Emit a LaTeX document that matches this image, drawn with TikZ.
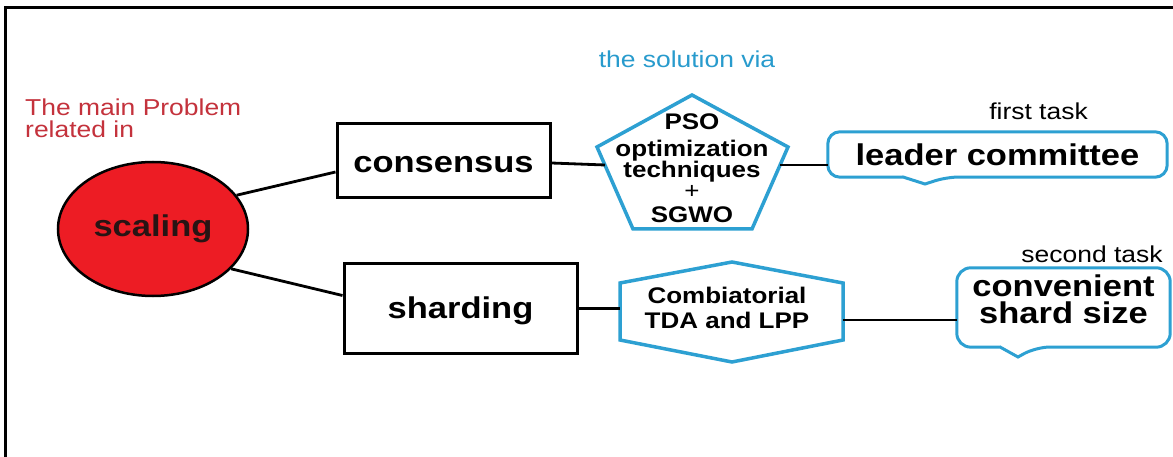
\documentclass[tikz,border=0pt]{standalone}
\usepackage{fontspec}
\setmainfont{Liberation Sans}[FakeStretch=1.15]
\usetikzlibrary{shapes.geometric}
\definecolor{probred}{RGB}{196,50,60}
\definecolor{solblue}{RGB}{40,155,205}
\definecolor{shapeblue}{RGB}{45,160,210}
\definecolor{fillred}{RGB}{237,28,36}
\definecolor{darkink}{RGB}{40,20,20}
\newcommand{\tightlines}{\setlength{\lineskiplimit}{-50pt}}
\begin{document}
\begin{tikzpicture}[x=1pt,y=-1pt,
  bigtext/.style={font={\bfseries\fontsize{30}{27}\selectfont\tightlines}},
  midtext/.style={font={\bfseries\fontsize{22.6}{21}\selectfont\tightlines}},
  smalltext/.style={font={\fontsize{23}{22}\selectfont}},
  blackbox/.style={draw, line width=3pt, rectangle, inner sep=0pt, bigtext},
  polyline/.style={draw=shapeblue, line width=3.5pt, line join=miter},
  calloutline/.style={draw=shapeblue, line width=3pt},
  connector/.style={line width=2.8pt},
  frameline/.style={line width=3pt}]
\useasboundingbox (0,0) rectangle (1173,457);
\fill[white] (0,0) rectangle (1173,457);
\draw[frameline] (1173,8) -- (5,8) -- (5,457);

% captions
\node[smalltext, text=probred, anchor=north west, align=left, inner sep=0pt] (probcap) at (25,98.5) {The main Problem\\related in};
\node[smalltext, text=solblue, anchor=base, inner sep=0pt] (solcap) at (687,68) {the solution via};
\node[smalltext, anchor=base, inner sep=0pt] (task1) at (1038.5,120) {first task};
\node[smalltext, anchor=base, inner sep=0pt] (task2) at (1092,262) {second task};

% problem and sub-problems
\node[ellipse, draw, line width=2.5pt, fill=fillred, minimum width=190pt, minimum height=134pt, inner sep=0pt, bigtext, text=darkink] (scal) at (153,229) {scaling};
\node[blackbox, minimum width=213pt, minimum height=74pt, text height=24pt, text depth=0pt] (cons) at (443.5,161) {consensus};
\node[blackbox, minimum width=233pt, minimum height=89pt, text height=22pt, text depth=3pt] (shard) at (460.5,308.5) {sharding};

% pentagon: PSO + SGWO
\draw[polyline] (692,95) -- (788,147) -- (752,229) -- (633,229) -- (597,147) -- cycle;
\coordinate (pL) at (605,165);
\coordinate (pR) at (780,165);
\node[midtext, align=center, inner sep=0pt] (pso) at (692,168) {PSO\\[6pt]optimization\\techniques\\{\mdseries +}\\[3pt]SGWO};

% hexagon: TDA and LPP
\draw[polyline] (732,262) -- (843,283) -- (843,340) -- (732,362) -- (620,340) -- (620,283) -- cycle;
\coordinate (hexL) at (620,308.5);
\coordinate (hexR) at (843,320);
\node[align=center, inner sep=0pt, font={\bfseries\fontsize{22.6}{25}\selectfont}] (tda) at (727,308) {Combiatorial\\TDA and LPP};

% task callouts
\node[bigtext, minimum width=339pt, minimum height=45pt, inner sep=0pt] (lead) at (997.5,154.5) {leader committee};
\draw[calloutline] (903,177) [rounded corners=12pt] -- (lead.south west) -- (lead.north west) -- (lead.north east) -- (lead.south east) -- (947,177) [sharp corners] -- (925,184) -- cycle;

\node[minimum width=213pt, minimum height=79pt, inner sep=0pt] (conv) at (1063.5,307.5) {};
\node[bigtext, align=center, inner sep=0pt] (convtxt) at ([yshift=8pt]conv.center) {convenient\\shard size};
\draw[calloutline] (1000,347) [rounded corners=14pt] -- (conv.south west) -- (conv.north west) -- (conv.north east) -- (conv.south east) -- (1036,347) [sharp corners] -- (1018,357) -- cycle;

% connectors
\draw[connector] (scal.22) -- ([yshift=-11pt]cons.west);
\draw[connector] (scal.-27) -- ([yshift=13pt]shard.west);
\draw[connector] ([yshift=-2pt]cons.east) -- (pL);
\draw[connector] (pR) -- (pR -| lead.west);
\draw[connector] (shard.east) -- (shard.east -| hexL);
\draw[connector] (hexR) -- (hexR -| conv.west);
\end{tikzpicture}
\end{document}
